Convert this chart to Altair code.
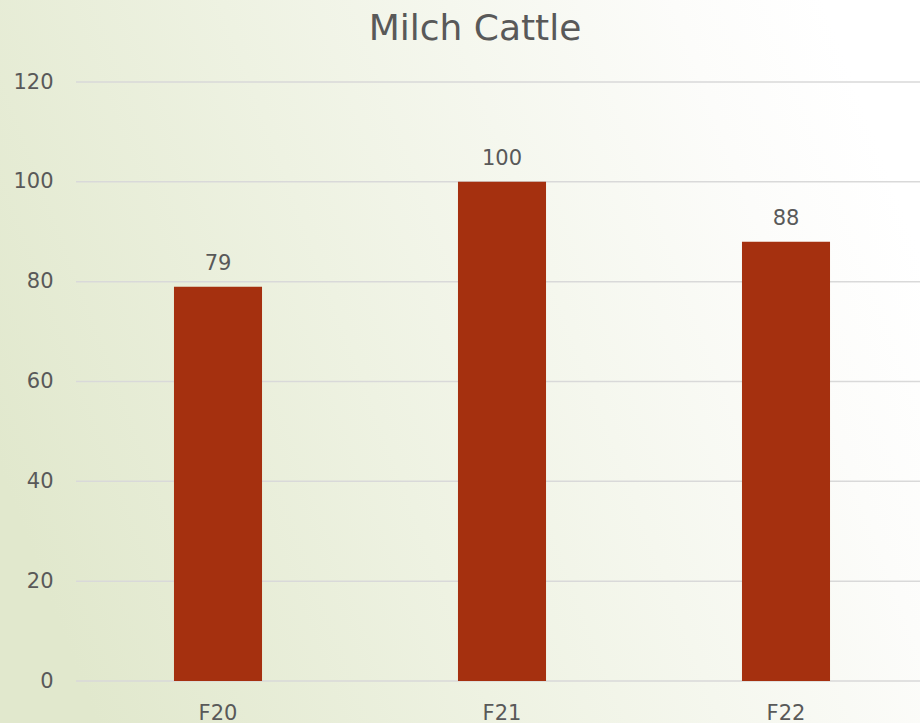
import altair as alt
import pandas as pd

categories = ["F20", "F21", "F22"]
values = [79, 100, 88]
y_ticks = [0, 20, 40, 60, 80, 100, 120]
title_text = "Milch Cattle"

W, H = 844, 599
PL, PT, PR, PB = 76, 82, 0, 42
FONT = "DejaVu Sans"
TXT = "#595959"

bars_df = pd.DataFrame({"cat": categories, "val": values})
grid_df = pd.DataFrame({"tick": y_ticks})
bg_df = pd.DataFrame({"k": [0]})
title_df = pd.DataFrame({"t": [title_text]})

yscale = alt.Scale(domain=[0, 120], nice=False)
xscale = alt.Scale(domain=categories, range=[0, 852], paddingInner=0.69, paddingOuter=0.345)

yaxis = alt.Axis(values=y_ticks, title=None, domain=False, ticks=False, grid=False,
                 labelPadding=23, labelFontSize=21, labelFont=FONT, labelColor=TXT, zindex=2)
xaxis = alt.Axis(title=None, domain=False, ticks=False, grid=False, labelAngle=0,
                 labelPadding=21, labelFontSize=21, labelFont=FONT, labelColor=TXT, zindex=2)

bg = alt.Chart(bg_df).mark_rect(
    color=alt.Gradient(
        gradient="linear",
        stops=[alt.GradientStop(color="#e1e8cd", offset=0),
               alt.GradientStop(color="#eef2e2", offset=0.4),
               alt.GradientStop(color="#fcfcfa", offset=0.85),
               alt.GradientStop(color="#ffffff", offset=1)],
        x1=0, y1=0.65, x2=1, y2=0.35),
    opacity=1,
).encode(x=alt.value(-PL), x2=alt.value(W + PR), y=alt.value(-PT), y2=alt.value(H + PB))

grid = alt.Chart(grid_df).mark_rule(color="#d9d9d9", strokeWidth=1.5).encode(
    y=alt.Y("tick:Q", scale=yscale, axis=yaxis),
    x=alt.value(0), x2=alt.value(W),
)

bars = alt.Chart(bars_df).mark_bar(color="#A5300F").encode(
    x=alt.X("cat:N", scale=xscale, axis=xaxis, sort=categories),
    y=alt.Y("val:Q", scale=yscale, axis=yaxis),
)

labels = alt.Chart(bars_df).mark_text(
    dy=-17, baseline="alphabetic", fontSize=21, font=FONT, color=TXT
).encode(
    x=alt.X("cat:N", scale=xscale, axis=xaxis, sort=categories),
    y=alt.Y("val:Q", scale=yscale, axis=yaxis),
    text=alt.Text("val:Q"),
)

title = alt.Chart(title_df).mark_text(
    fontSize=36, font=FONT, color=TXT, baseline="alphabetic", align="center"
).encode(x=alt.value(475 - PL), y=alt.value(40 - PT), text="t:N")

chart = alt.layer(bg, grid, bars, labels, title).properties(
    width=W, height=H,
    padding={"left": PL, "top": PT, "right": PR, "bottom": PB},
    autosize=alt.AutoSizeParams(type="none"),
).configure_view(stroke=None)

chart.save("out.html", embed_options={"renderer": "svg", "actions": False})
